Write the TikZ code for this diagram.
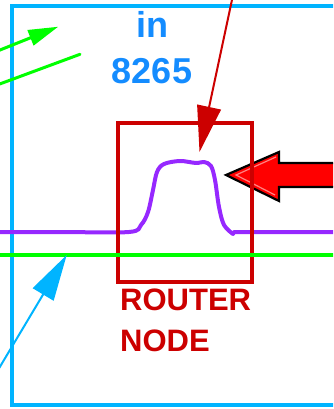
\documentclass[tikz,border=0pt]{standalone}
\usepackage{fontspec}
\setmainfont{Liberation Sans}
\usetikzlibrary{arrows.meta}
\definecolor{cyanbox}{RGB}{0,180,255}
\definecolor{bluetext}{RGB}{20,140,255}
\definecolor{darkred}{RGB}{204,0,0}
\definecolor{brightgreen}{RGB}{0,255,0}
\definecolor{violetline}{RGB}{150,40,255}
\definecolor{pinkhl}{RGB}{255,130,130}
\tikzset{
  regionbox/.style={draw=cyanbox, line width=3.5pt, inner sep=0, outer sep=0},
  routerbox/.style={draw=darkred, line width=4pt, inner sep=0, outer sep=0},
  greenline/.style={brightgreen, line width=3pt, line cap=round},
  bluelabel/.style={text=bluetext, font=\bfseries\fontsize{36}{36}\selectfont, inner sep=0, anchor=base},
  redlabel/.style={text=darkred, font=\bfseries\fontsize{31}{31}\selectfont, inner sep=0, anchor=base west},
}
\begin{document}
\begin{tikzpicture}[x=1pt,y=-1pt]
\useasboundingbox (0,0) rectangle (333,409);
\clip (0,0) rectangle (333,409);
% region box (extends past right edge)
\node[regionbox, minimum width=388pt, minimum height=399pt] (region) at (206,205.5) {};
% purple signal curve
\draw[violetline, line width=4pt, line join=round]
  plot[smooth, tension=0.55] coordinates {(-5,232) (60,232) (129,232) (141,225) (148,212) (153,190) (157,172) (164,164) (180,161) (196,163) (204,162) (211,166) (215,180) (219,207) (224,225) (233,234)}
  -- (234,232) -- (340,232);
% block arrow
\coordinate (btip) at (226,175);
\draw[black, line width=2.2pt, fill=red, line join=miter]
  (btip) -- (279,152) -- (279,163) -- (345,163) -- (345,187) -- (279,187) -- (279,201) -- cycle;
\draw[pinkhl, line width=1.2pt] (276,157) -- (236,175) -- (275,195);
% router box
\node[routerbox, minimum width=133.4pt, minimum height=158.4pt] (router) at (185,202.5) {};
% green horizontal link
\coordinate (gh1) at (-5,254.5);
\coordinate (gh2) at (340,254.5);
\draw[brightgreen, line width=4pt] (gh1) -- (gh2);
% green arrows
\coordinate (ga1) at (-3,51.2);
\coordinate (ga2) at (58.3,26.7);
\draw[greenline, -{Triangle[length=30pt,width=16pt]}] (ga1) -- (ga2);
\coordinate (gl1) at (-3,85);
\coordinate (gl2) at (80,54.3);
\draw[greenline] (gl1) -- (gl2);
% cyan arrow
\coordinate (ca1) at (-2,370);
\coordinate (ca2) at (66.7,255);
\draw[cyanbox, line width=2pt, -{Triangle[length=46pt,width=24pt]}] (ca1) -- (ca2);
% red thin arrow
\coordinate (ra1) at (232.6,-3);
\coordinate (ra2) at (199.5,152);
\draw[darkred, line width=2pt, -{Triangle[length=46pt,width=24pt]}] (ra1) -- (ra2);
% labels
\node[bluelabel] (lin) at (152,37.3) {in};
\node[bluelabel] (lnum) at (152,83.3) {8265};
\node[redlabel] (lrouter) at (120,310.7) {ROUTER};
\node[redlabel] (lnode) at (120,351.7) {NODE};
\end{tikzpicture}
\end{document}
